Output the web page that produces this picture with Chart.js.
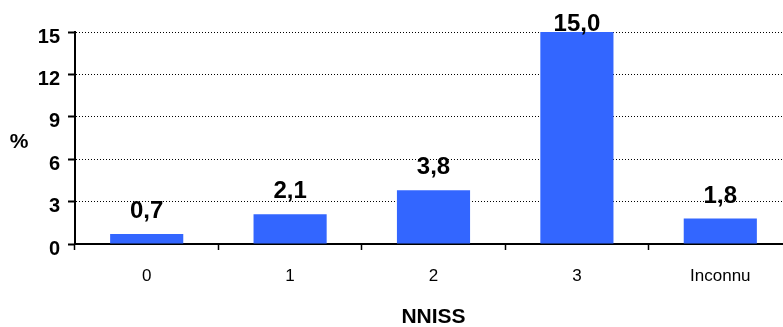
<!DOCTYPE html>
<html>
<head>
<meta charset="utf-8">
<script src="https://cdn.jsdelivr.net/npm/chart.js@4"></script>
<style>
  html, body { margin: 0; padding: 0; background: #ffffff; overflow: hidden; }
  #wrap { width: 783px; height: 327px; overflow: hidden; }
  canvas { display: block; }
</style>
</head>
<body>
<div id="wrap"><canvas id="c" width="792" height="327"></canvas></div>
<script>
// NNISS risk index categories and infection rates (%)
const categories = ['0', '1', '2', '3', 'Inconnu'];
const rates = [0.7, 2.1, 3.8, 15.0, 1.8];
const yTicks = [0, 3, 6, 9, 12, 15];
const xTitle = 'NNISS';
const yTitle = '%';

const FONT = "'Liberation Sans', Arial, sans-serif";
const fmt = v => v.toFixed(1).replace('.', ',');

// Value labels above the bars plus the two axis captions
const labelsPlugin = {
  id: 'valueLabels',
  afterDatasetsDraw(chart) {
    const ctx = chart.ctx;
    const meta = chart.getDatasetMeta(0);
    ctx.save();
    ctx.fillStyle = '#000';
    ctx.font = 'bold 24px ' + FONT;
    ctx.textAlign = 'center';
    ctx.textBaseline = 'alphabetic';
    meta.data.forEach((bar, i) => {
      const y = Math.max(bar.y - 16, 31);
      ctx.fillText(fmt(rates[i]), bar.x, y);
    });
    ctx.font = 'bold 21px ' + FONT;
    ctx.textBaseline = 'middle';
    ctx.fillText(yTitle, 19, 142);
    const xs = chart.scales.x;
    ctx.fillText(xTitle, (xs.left + xs.right) / 2, 317);
    ctx.restore();
  }
};

new Chart(document.getElementById('c'), {
  type: 'bar',
  data: {
    labels: categories,
    datasets: [{
      data: rates,
      backgroundColor: '#3366ff',
      borderWidth: 0,
      categoryPercentage: 1.0,
      barPercentage: 0.51
    }]
  },
  options: {
    responsive: false,
    animation: false,
    devicePixelRatio: 1,
    layout: { padding: { top: 32, left: 0, right: 0, bottom: 0 } },
    plugins: { legend: { display: false }, tooltip: { enabled: false } },
    scales: {
      x: {
        offset: true,
        grid: {
          offset: true,
          drawOnChartArea: false,
          drawTicks: true,
          tickLength: 6,
          tickColor: '#000',
          tickWidth: 1.5,
          color: '#000'
        },
        border: { display: true, color: '#000', width: 2 },
        ticks: {
          color: '#000',
          font: { family: FONT, size: 17 },
          padding: 16,
          maxRotation: 0,
          autoSkip: false
        },
        afterFit(scale) { scale.height = 83; }
      },
      y: {
        min: 0,
        max: 15,
        afterBuildTicks(scale) { scale.ticks = yTicks.map(v => ({ value: v })); },
        grid: {
          color: '#000',
          lineWidth: 1,
          drawTicks: true,
          tickLength: 7,
          tickColor: '#000',
          tickWidth: 2,
          tickBorderDash: []
        },
        border: { display: true, color: '#000', width: 2, dash: [1, 2] },
        ticks: {
          color: '#000',
          font: { family: FONT, size: 20, weight: 'bold' },
          padding: 8,
          labelOffset: 5
        },
        afterFit(scale) { scale.width = 75; }
      }
    }
  },
  plugins: [labelsPlugin]
});
</script>
</body>
</html>
